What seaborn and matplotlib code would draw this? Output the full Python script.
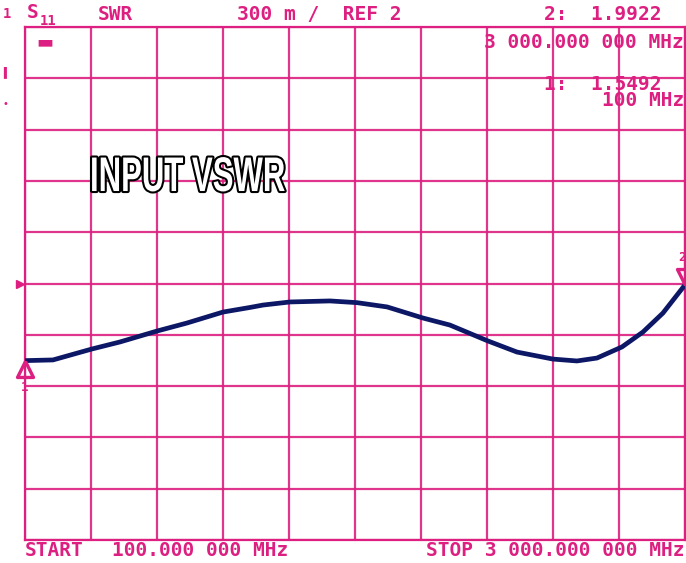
import seaborn as sns
import matplotlib.pyplot as plt
import matplotlib.patheffects as pe
import matplotlib.transforms as mtransforms

# trace (MHz, SWR)
freq_mhz = [100, 223, 394, 517, 680, 812, 970, 1089, 1146, 1264, 1440, 1559,
            1691, 1849, 1967, 2134, 2262, 2420, 2525, 2613, 2723, 2815, 2903, 3000]
swr = [1.549, 1.553, 1.617, 1.658, 1.722, 1.769, 1.833, 1.860, 1.874, 1.892, 1.898, 1.888,
       1.863, 1.798, 1.757, 1.664, 1.599, 1.558, 1.547, 1.564, 1.629, 1.716, 1.827, 1.992]

start_mhz, stop_mhz = 100, 3000
ref_val, per_div = 2.0, 0.3
marker_freq = [100, 3000]
marker_val = [1.5492, 1.9922]

pink = "#dc1f80"
navy = "#0c1766"


# squeeze glyphs horizontally (the label uses a condensed type)
class SqueezeStroke(pe.Stroke):
    def __init__(self, sx, **kw):
        super().__init__(**kw)
        self.sx = sx

    def draw_path(self, renderer, gc, tpath, affine, rgbFace):
        x0, y0 = affine.transform((0, 0))
        aff = affine + mtransforms.Affine2D().translate(-x0, 0).scale(self.sx, 1).translate(x0, 0)
        super().draw_path(renderer, gc, tpath, aff, rgbFace)


sns.set_style("white")
plt.rcParams["font.family"] = ["DejaVu Sans Mono", "DejaVu Sans"]

fig = plt.figure(figsize=(6.86, 5.63), dpi=100)
ax = fig.add_axes([25 / 686, 23 / 563, 660 / 686, 513 / 563])

sns.lineplot(x=freq_mhz, y=swr, ax=ax, color=navy, linewidth=3.4, zorder=5,
             solid_joinstyle="round", solid_capstyle="round")

ax.set_xlim(start_mhz, stop_mhz)
ax.set_ylim(ref_val - 5 * per_div, ref_val + 5 * per_div)
xstep = (stop_mhz - start_mhz) / 10
ax.set_xticks([start_mhz + i * xstep for i in range(11)])
ax.set_yticks([ref_val + (i - 5) * per_div for i in range(11)])
ax.grid(True, color=pink, linewidth=1.6, alpha=0.9)
ax.tick_params(length=0, labelbottom=False, labelleft=False)
for s in ax.spines.values():
    s.set_color(pink)
    s.set_linewidth(1.6)
ax.set_xlabel("")
ax.set_ylabel("")

# markers
tri_up = [(0, 0), (-0.5, -1.0), (0.5, -1.0), (0, 0)]
tri_dn = [(0, 0), (-0.5, 1.0), (0.5, 1.0), (0, 0)]
ax.plot(marker_freq[0], swr[0], marker=tri_up, markersize=23, mfc="none",
        mec=pink, mew=2.4, clip_on=False, zorder=6)
ax.plot(marker_freq[1], swr[-1], marker=tri_dn, markersize=23, mfc="none",
        mec=pink, mew=2.4, clip_on=False, zorder=6)
ax.annotate("1", (marker_freq[0], swr[0]), xytext=(0, -19), textcoords="offset points",
            ha="center", va="center", color=pink, fontsize=9, fontweight="bold")
ax.annotate("2", (marker_freq[1], swr[-1]), xytext=(-2, 20), textcoords="offset points",
            ha="center", va="center", color=pink, fontsize=9, fontweight="bold")

# reference level arrow on the left edge
trans = mtransforms.blended_transform_factory(ax.transAxes, ax.transData)
ax.plot(-0.008, ref_val, marker=">", markersize=6, color=pink, transform=trans,
        clip_on=False)

# header / footer text of the analyzer
tkw = dict(color=pink, fontsize=14, fontweight="bold", transform=fig.transFigure)
fig.text(3 / 686, 1 - 14 / 563, "1", va="center", color=pink, fontsize=10, fontweight="bold")
fig.text(27 / 686, 1 - 13 / 563, "S", va="center", **tkw)
fig.text(40 / 686, 1 - 21 / 563, "11", va="center", color=pink, fontsize=10,
         fontweight="bold")
fig.text(98 / 686, 1 - 14 / 563, "SWR", va="center", **tkw)
fig.text(237 / 686, 1 - 14 / 563, "300 m /  REF 2", va="center", **tkw)
fig.text(662 / 686, 1 - 14 / 563, f"2:  {marker_val[1]:.4f}", ha="right", va="center", **tkw)
fig.text(684 / 686, 1 - 42 / 563, "3 000.000 000 MHz", ha="right", va="center", **tkw)
fig.text(662 / 686, 1 - 85 / 563, f"1:  {marker_val[0]:.4f}", ha="right", va="center", **tkw)
fig.text(684 / 686, 1 - 100 / 563, "100 MHz", ha="right", va="center", **tkw)
fig.text(25 / 686, 1 - 551 / 563, "START", va="center", **tkw)
fig.text(112 / 686, 1 - 551 / 563, "100.000 000 MHz", va="center", **tkw)
fig.text(684 / 686, 1 - 551 / 563, "STOP 3 000.000 000 MHz", ha="right", va="center", **tkw)
fig.text(36 / 686, 1 - 42 / 563, "\u25ac", va="center", color=pink, fontsize=13,
         family="DejaVu Sans")
fig.text(3 / 686, 1 - 72 / 563, "\u258c", va="center", color=pink, fontsize=7)
fig.text(3 / 686, 1 - 104 / 563, "\u2022", va="center", color=pink, fontsize=7)

fig.text(90 / 686, 1 - 191 / 563, "INPUT VSWR", fontsize=35, fontweight="bold",
         family=["Liberation Sans", "DejaVu Sans"], color="white",
         va="baseline", ha="left", zorder=7,
         path_effects=[SqueezeStroke(0.64, linewidth=3.0, foreground="black"),
                       SqueezeStroke(0.64, linewidth=0.01, foreground="white")])

fig.savefig("out.png", dpi=100, facecolor="white")
